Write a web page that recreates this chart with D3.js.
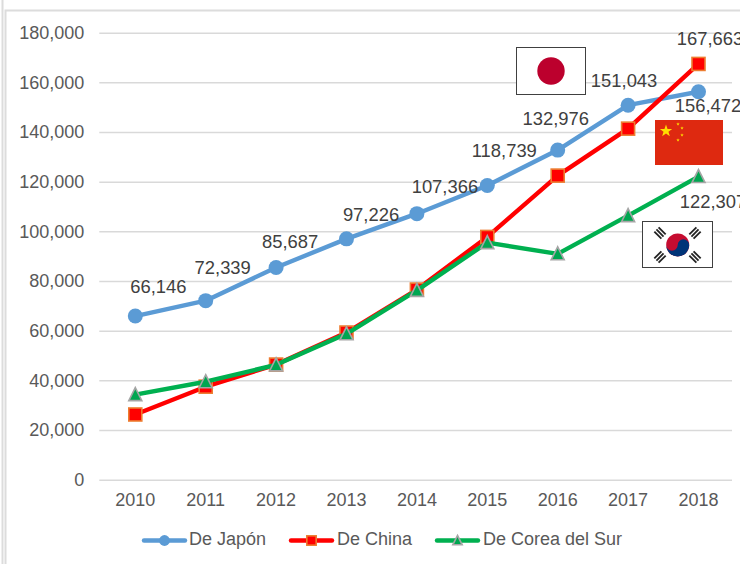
<!DOCTYPE html>
<html><head><meta charset="utf-8">
<script src="https://cdn.jsdelivr.net/npm/d3@7/dist/d3.min.js"></script>
<style>html,body{margin:0;padding:0;background:#fff;overflow:hidden}svg{display:block}text{font-family:"Liberation Sans",Arial,sans-serif}</style>
</head><body><svg id="c" width="740" height="564"></svg>
<script>
const years = [2010,2011,2012,2013,2014,2015,2016,2017,2018];
const japan = [66146,72339,85687,97226,107366,118739,132976,151043,156472];
const china = [26500,37700,46600,59500,76800,98000,122700,141600,167663];
const korea = [34500,39700,46500,59000,76500,95700,91200,106600,122307];
const yTicks = [0,20000,40000,60000,80000,100000,120000,140000,160000,180000];
const labelOffsets = [[23,-27],[17,-31],[14,-24],[24.5,-22],[28,-25],[17,-33],[-2,-29],[-4,-22],[9.5,16]];
const chinaLabel = {text:"167,663", dx:11.5, dy:-23};
const koreaLabel = {text:"122,307", dx:14.5, dy:27};

const svg = d3.select("#c");
const x = d3.scaleBand().domain(years).range([100.1,733.7]);
const y = d3.scaleLinear().domain([0,180000]).range([479.7,32.7]);
const fmt = d3.format(",");
const cx = d => x(d)+x.bandwidth()/2;
const FS = 18;

svg.append("path").attr("d","M2.5 0V564M5.5 564V10.5H740").attr("fill","none").attr("stroke","#dcdcdc").attr("stroke-width",2);

const gy = svg.append("g").attr("transform","translate(99.3,0)").call(d3.axisLeft(y).tickValues(yTicks).tickFormat(fmt).tickSize(-632.7).tickPadding(15));
gy.select(".domain").remove();
gy.selectAll("line").attr("stroke","#d9d9d9").attr("stroke-width",1.5);
gy.selectAll("text").attr("fill","#595959").attr("font-size",FS);
const gx = svg.append("g").attr("transform","translate(0,479.7)").call(d3.axisBottom(x).tickSize(0).tickPadding(14));
gx.select(".domain").remove();
gx.selectAll("text").attr("fill","#595959").attr("font-size",FS);

const line = d3.line().x((d,i)=>cx(years[i])).y(d=>y(d)+0.6);
const series = [
 {name:"De Japón", values:japan, color:"#5b9bd5", kind:"circle", lx:144, tx:189},
 {name:"De China", values:china, color:"#ff0000", kind:"square", lx:291, tx:337},
 {name:"De Corea del Sur", values:korea, color:"#00b050", kind:"triangle", lx:437, tx:483}
];
function marker(g,kind,px,py,k=1){
  if(kind==="circle") g.append("circle").attr("cx",px).attr("cy",py).attr("r",7.5*k).attr("fill","#5b9bd5");
  if(kind==="square") g.append("rect").attr("x",px-6.5*k).attr("y",py-6.5*k).attr("width",13*k).attr("height",13*k).attr("fill","#ff0000").attr("stroke","#ed7d31").attr("stroke-width",1.6);
  if(kind==="triangle") g.append("path").attr("d",`M${px} ${py-7*k}L${px+6.5*k} ${py+6*k}H${px-6.5*k}Z`).attr("fill","#00a651").attr("stroke","#a5a5a5").attr("stroke-width",1.6);
}
series.forEach(s=>{
  const g = svg.append("g");
  g.append("path").datum(s.values).attr("d",line).attr("fill","none").attr("stroke",s.color).attr("stroke-width",4.4).attr("stroke-linecap","round").attr("stroke-linejoin","round");
  s.values.forEach((v,i)=>marker(g,s.kind,cx(years[i]),y(v)+0.6));
});

function label(t,px,py){svg.append("text").attr("x",px).attr("y",py).attr("text-anchor","middle").attr("dominant-baseline","middle").attr("fill","#404040").attr("font-size",18.4).text(t);}
japan.forEach((v,i)=>label(fmt(v),cx(years[i])+labelOffsets[i][0],y(v)+labelOffsets[i][1]));
label(chinaLabel.text,cx(2018)+chinaLabel.dx,y(167663)+chinaLabel.dy);
label(koreaLabel.text,cx(2018)+koreaLabel.dx,y(122307)+koreaLabel.dy);

series.forEach(s=>{
  const g = svg.append("g");
  g.append("line").attr("x1",s.lx).attr("x2",s.lx+41).attr("y1",540.5).attr("y2",540.5).attr("stroke",s.color).attr("stroke-width",4.4).attr("stroke-linecap","round");
  marker(g,s.kind,s.lx+20.5,540.5,0.72);
  g.append("text").attr("x",s.tx).attr("y",540.5).attr("dominant-baseline","middle").attr("fill","#595959").attr("font-size",FS).text(s.name);
});

const jf = svg.append("g");
jf.append("rect").attr("x",516.5).attr("y",47.5).attr("width",69).attr("height",47).attr("fill","#fff").attr("stroke","#404040");
jf.append("circle").attr("cx",551).attr("cy",71).attr("r",13.7).attr("fill","#bc002d");

const cf = svg.append("g");
cf.append("rect").attr("x",655).attr("y",120).attr("width",68).attr("height",45).attr("fill","#de2910");
const star=(px,py,r)=>{let p=[];for(let i=0;i<10;i++){const a=-Math.PI/2+i*Math.PI/5,q=i%2?r*0.4:r;p.push([px+q*Math.cos(a),py+q*Math.sin(a)]);}cf.append("polygon").attr("points",p.join(" ")).attr("fill","#ffde00");};
star(666,131,6.5);star(678,124,1.8);star(682,128,1.8);star(682,135,1.8);star(678,140,1.8);

const kf = svg.append("g");
kf.append("rect").attr("x",642.5).attr("y",221.5).attr("width",70).attr("height",46).attr("fill","#fff").attr("stroke","#404040");
const kx=677.7, ky=245, kr=11.5;
kf.append("circle").attr("cx",kx).attr("cy",ky).attr("r",kr).attr("fill","#c60c30");
kf.append("path").attr("d",`M${kx-kr} ${ky}A${kr} ${kr} 0 0 0 ${kx+kr} ${ky}A${kr/2} ${kr/2} 0 0 0 ${kx} ${ky}A${kr/2} ${kr/2} 0 0 1 ${kx-kr} ${ky}Z`).attr("fill","#003478");
[[660,233,45],[695,233,-45],[660,257,-45],[695,257,45]].forEach(([a,b,r])=>{
  [-3,0,3].forEach(o=>kf.append("line").attr("x1",-5).attr("x2",5).attr("y1",o).attr("y2",o)
    .attr("transform",`translate(${a},${b}) rotate(${r})`).attr("stroke","#222").attr("stroke-width",1.8));
});
</script></body></html>
